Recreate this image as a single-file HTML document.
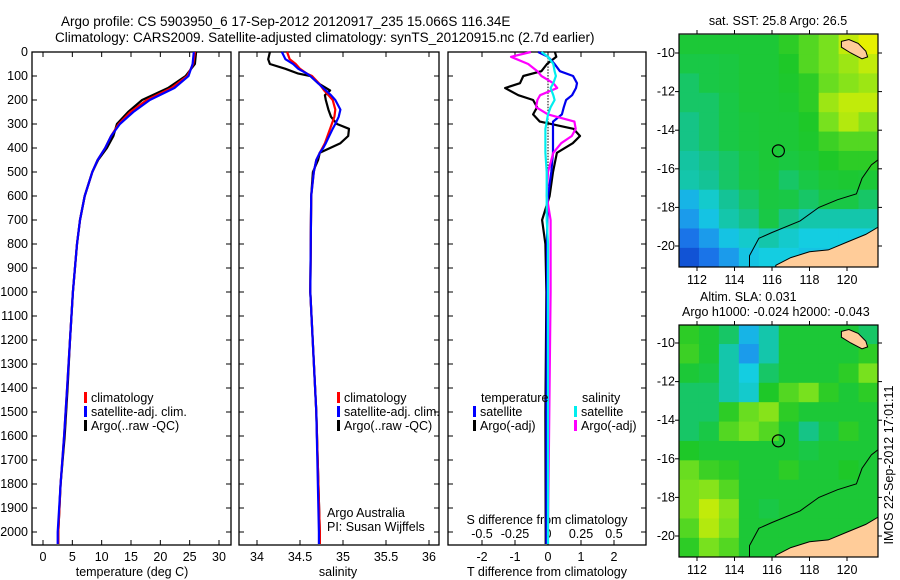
<!DOCTYPE html>
<html><head><meta charset="utf-8"><style>
body{margin:0;background:#fff}
svg{display:block;font-family:"Liberation Sans",sans-serif;font-size:12.5px}
</style></head><body>
<svg id="s" width="900" height="580" xmlns="http://www.w3.org/2000/svg">
<text x="61" y="26" font-size="13.5">Argo profile: CS 5903950_6 17-Sep-2012 20120917_235 15.066S 116.34E</text>
<text x="55" y="42" font-size="13.5">Climatology: CARS2009. Satellite-adjusted climatology: synTS_20120915.nc (2.7d earlier)</text>
<text x="778" y="25" text-anchor="middle">sat. SST: 25.8 Argo: 26.5</text>
<text x="700" y="301">Altim. SLA: 0.031</text>
<text x="682" y="316">Argo h1000: -0.024 h2000: -0.043</text>
<text transform="translate(893,465) rotate(-90)" text-anchor="middle">IMOS 22-Sep-2012 17:01:11</text>
<g id="g"></g>
</svg>
<script>
// ---------- data ----------
const depthTicks=[0,100,200,300,400,500,600,700,800,900,1000,1100,1200,1300,1400,1500,1600,1700,1800,1900,2000];
const tempTicks=[0,5,10,15,20,25,30];
const salTicks=[34,34.5,35,35.5,36];
const tdTicks=[-2,-1,0,1,2];
const sdTicks=[-0.5,-0.25,0,0.25,0.5];
const sdTickLabels=["-0.5","-0.25","0","0.25","0.5"];

const tDepth=[0,50,100,150,200,250,300,350,400,450,500,600,700,800,1000,1200,1400,1600,1800,2000,2050];
const tClim=[25.9,25.6,24.6,21.9,17.7,14.9,12.9,11.6,10.6,9.3,8.4,7.1,6.3,5.8,5.1,4.6,4.1,3.6,3.0,2.6,2.6];
const tSat=[25.7,25.5,24.8,22.4,18.2,15.4,13.1,11.6,10.6,9.3,8.4,7.1,6.3,5.8,5.1,4.6,4.1,3.6,3.0,2.5,2.5];
const tArgo=[26.1,25.9,24.3,21.3,16.9,14.5,12.6,12.0,10.9,9.4,8.4,7.1,6.3,5.8,5.1,4.6,4.2,3.7,3.0,2.6,2.6];

const sDepth=[0,30,50,70,90,100,130,160,180,200,240,270,300,320,350,380,400,420,450,500,600,1000,1500,2000,2050];
const sClim=[34.35,34.38,34.45,34.5,34.58,34.64,34.72,34.78,34.83,34.88,34.91,34.9,34.87,34.85,34.82,34.79,34.76,34.73,34.69,34.66,34.63,34.62,34.69,34.73,34.73];
const sSat=[34.29,34.33,34.42,34.48,34.58,34.62,34.71,34.8,34.86,34.91,34.97,34.95,34.91,34.88,34.84,34.8,34.77,34.73,34.69,34.66,34.63,34.62,34.69,34.72,34.72];
const sArgo=[34.15,34.13,34.15,34.33,34.48,34.62,34.71,34.85,34.79,34.8,34.83,34.86,34.93,35.07,35.06,34.97,34.85,34.73,34.71,34.65,34.63,34.62,34.69,34.73,34.73];

const dDepth=[0,20,50,80,100,130,150,180,200,230,260,290,320,350,380,420,500,600,700,800,1000,1500,2000,2050];
const tdSat=[-0.3,0.0,0.2,0.36,0.76,0.88,0.85,0.73,0.55,0.48,0.42,0.15,0.15,0.15,0.15,0.15,0.1,0.0,-0.02,-0.03,-0.03,-0.05,-0.05,-0.05];
const tdArgo=[0.21,0.25,-0.03,-0.2,-0.75,-0.85,-1.3,-0.9,-0.45,-0.33,-0.45,-0.25,0.77,0.97,0.75,0.27,0.15,0.05,-0.18,-0.08,-0.05,-0.08,-0.07,-0.07];
const sdSat=[-0.05,0.0,0.04,0.05,0.06,0.04,0.02,0.04,0.05,0.02,0.0,-0.01,-0.02,-0.02,-0.02,-0.02,-0.01,-0.01,-0.01,0.0,0.0,0.0,0.0,0.0];
const sdArgo=[-0.13,-0.28,-0.15,-0.08,-0.05,0.04,0.07,-0.06,-0.08,-0.09,0.0,0.2,0.21,0.18,0.1,0.04,0.0,-0.01,0.02,0.02,0.02,0.01,0.0,0.0];

const lonTicks=[112,114,116,118,120];
const latTicks=[-10,-12,-14,-16,-18,-20];
const sstGrid=[
[.55,.55,.55,.55,.55,.6,.65,.7,.8,.85],
[.52,.52,.53,.55,.55,.58,.65,.7,.75,.8],
[.5,.52,.53,.55,.55,.57,.6,.68,.72,.75],
[.5,.5,.52,.55,.55,.56,.6,.75,.8,.8],
[.48,.5,.52,.54,.55,.55,.58,.7,.78,.72],
[.48,.5,.52,.54,.55,.55,.57,.62,.65,.65],
[.46,.48,.5,.52,.55,.53,.55,.58,.6,.6],
[.45,.47,.5,.52,.54,.5,.52,.55,.56,.55],
[.35,.42,.47,.5,.53,.52,.5,.52,.52,.5],
[.3,.38,.45,.48,.52,.48,.45,.45,.45,.45],
[.22,.3,.38,.42,.45,.42,.4,.4,.4,.4],
[.15,.22,.3,.38,.4,.4,.38,.38,.38,.38]];
const slaGrid=[
[.6,.55,.5,.35,.45,.55,.55,.55,.55,.5],
[.62,.55,.45,.3,.45,.55,.55,.55,.55,.6],
[.55,.52,.45,.4,.5,.55,.55,.55,.6,.7],
[.5,.5,.45,.42,.58,.65,.7,.6,.55,.6],
[.5,.5,.6,.68,.72,.6,.55,.55,.55,.55],
[.5,.52,.65,.7,.65,.55,.48,.52,.6,.55],
[.58,.55,.55,.55,.55,.55,.52,.55,.55,.55],
[.68,.62,.6,.55,.55,.6,.55,.55,.58,.55],
[.7,.72,.65,.55,.55,.55,.55,.55,.55,.55],
[.7,.8,.72,.55,.52,.55,.55,.55,.55,.55],
[.65,.78,.7,.55,.55,.55,.55,.55,.55,.55],
[.6,.7,.65,.55,.55,.55,.55,.55,.55,.55]];
const landLon=[121.7,121.7,121,120,119,118,117,116.2,116.2];
const landLat=[-21.2,-19,-19.4,-19.8,-20.2,-20.3,-20.6,-21,-21.2];
const islandLon=[119.7,120.1,120.6,121,121.1,120.8,120.2,119.7];
const islandLat=[-9.4,-9.3,-9.5,-9.9,-10.2,-10.3,-10,-9.7];
const isoLon=[121.7,121.3,120.8,120.5,119.5,118.5,117.5,116,115.3,114.8,114.8];
const isoLat=[-15.5,-15.8,-16.5,-17.3,-17.6,-18,-18.7,-19.3,-19.6,-20.5,-21.1];
const argoLon=116.34, argoLat=-15.07;

// ---------- drawing ----------
const NS="http://www.w3.org/2000/svg", G=document.getElementById('g');
function mk(t,a,p){const e=document.createElementNS(NS,t);for(const k in a)e.setAttribute(k,a[k]);(p||G).appendChild(e);return e;}
const Y0=52,Y1=545,yD=d=>Y0+d*0.24;
function lin(v0,p0,v1,p1){return v=>p0+(v-v0)*(p1-p0)/(v1-v0);}

function frame(x0,x1,name){
  const r=mk('rect',{x:x0,y:Y0,width:x1-x0,height:Y1-Y0,fill:'none',stroke:'#000','stroke-width':1.3});
  
  
  depthTicks.forEach(d=>{mk('line',{x1:x0,x2:x0+5,y1:yD(d),y2:yD(d),stroke:'#000'});mk('line',{x1:x1,x2:x1-5,y1:yD(d),y2:yD(d),stroke:'#000'});});
}
function line(xs,ds,sx,color,name,w){
  const pts=xs.map((v,i)=>sx(v).toFixed(1)+','+yD(ds[i]).toFixed(1)).join(' ');
  const p=mk('polyline',{points:pts,fill:'none',stroke:color,'stroke-width':w||2.2,'stroke-linejoin':'round'});
  
  
}
function txt(x,y,s,anchor,name){const t=mk('text',{x:x,y:y,'text-anchor':anchor||'start'});t.textContent=s;
  
  return t;}
function xticks(vals,labels,sx,ty,x0){vals.forEach((v,i)=>{const x=sx(v);mk('line',{x1:x,x2:x,y1:Y1,y2:Y1-5,stroke:'#000'});mk('line',{x1:x,x2:x,y1:Y0,y2:Y0+5,stroke:'#000'});
  txt(x,ty,labels[i],'middle','x-tick-label');});}

depthTicks.forEach(d=>txt(28,yD(d)+4,String(d),'end','depth-tick-label'));

const sxT=lin(0,43,30,219);
frame(32,231,'temperature-panel');
xticks(tempTicks,tempTicks.map(String),sxT,561,32);
txt(132,576,'temperature (deg C)','middle','temperature-axis-title');
line(tArgo,tDepth,sxT,'#000','temp-argo-line');
line(tClim,tDepth,sxT,'#f00','temp-climatology-line');
line(tSat,tDepth,sxT,'#00f','temp-satellite-line');

const sxS=lin(34,257,36,429);
frame(239,439,'salinity-panel');
xticks(salTicks,salTicks.map(String),sxS,561,239);
txt(338,576,'salinity','middle','salinity-axis-title');
line(sArgo,sDepth,sxS,'#000','sal-argo-line');
line(sClim,sDepth,sxS,'#f00','sal-climatology-line');
line(sSat,sDepth,sxS,'#00f','sal-satellite-line');

function leg(x,y,c,s,name){mk('rect',{x:x,y:y-10,width:3,height:11,fill:c});txt(x+7,y,s,'start',name);}
[[84,'temp'],[337,'sal']].forEach(([x,n])=>{leg(x,402,'#f00','climatology',n+'-legend-climatology');leg(x,416,'#00f','satellite-adj. clim.',n+'-legend-satellite');leg(x,430,'#000','Argo(..raw -QC)',n+'-legend-argo');});
txt(327,517,'Argo Australia','start','argo-australia-label');
txt(327,531,'PI: Susan Wijffels','start','pi-label');

const sxTD=lin(0,548,2,614), sxSD=lin(0,548,0.5,614);
frame(448,646,'difference-panel');
tdTicks.forEach(v=>{const x=sxTD(v);mk('line',{x1:x,x2:x,y1:Y1,y2:Y1-5,stroke:'#000'});mk('line',{x1:x,x2:x,y1:Y0,y2:Y0+5,stroke:'#000'});txt(x,561,String(v),'middle','t-diff-tick-label');});
sdTicks.forEach((v,i)=>txt(sxSD(v),538,sdTickLabels[i],'middle','s-diff-tick-label'));
txt(547,524,'S difference from climatology','middle','s-diff-axis-title');
txt(547,576,'T difference from climatology','middle','t-diff-axis-title');
for(let d=0;d<600;d+=12)mk('rect',{x:547.5,y:yD(d),width:1,height:1.5,fill:'#000'});
line(tdArgo,dDepth,sxTD,'#000','tdiff-argo-line');
line(tdSat,dDepth,sxTD,'#0000ee','tdiff-satellite-line');
line(sdArgo,dDepth,sxSD,'#f0f','sdiff-argo-line');
line(sdSat,dDepth,sxSD,'#0ee','sdiff-satellite-line');
txt(481,402,'temperature','start','diff-legend-temperature');
txt(582,402,'salinity','start','diff-legend-salinity');
leg(473,416,'#00f','satellite','diff-legend-t-satellite');
leg(473,430,'#000','Argo(-adj)','diff-legend-t-argo');
leg(574,416,'#0ee','satellite','diff-legend-s-satellite');
leg(574,430,'#f0f','Argo(-adj)','diff-legend-s-argo');

const stops=[[0.1,[10,60,200]],[0.25,[30,130,240]],[0.4,[20,205,225]],[0.47,[20,195,150]],[0.52,[25,200,70]],[0.58,[30,200,40]],[0.7,[120,225,30]],[0.85,[230,240,0]]];
function cmap(v){if(v<=stops[0][0])return stops[0][1];for(let i=1;i<stops.length;i++){if(v<=stops[i][0]){const a=stops[i-1],b=stops[i],t=(v-a[0])/(b[0]-a[0]);return a[1].map((c,k)=>Math.round(c+(b[1][k]-c)*t));}}return stops[stops.length-1][1];}
function map(top,bottom,lat0,lat1,grid,name){
  const X0=679,X1=878,sx=lin(112,697,120,847),sy=lin(-10,top+ (lat0),-20,top+(lat1));
  const g=mk('g',{});
  
  
  const cp=mk('clipPath',{id:'c'+top},g);mk('rect',{x:X0,y:top,width:X1-X0,height:bottom-top},cp);
  const inner=mk('g',{'clip-path':'url(#c'+top+')'},g);
  const lonA=111.04,lonB=121.68,latA=-9.05,latB=-21.1;
  const nr=grid.length,nc=grid[0].length;
  grid.forEach((row,r)=>row.forEach((v,c)=>{
    const x=sx(lonA+(lonB-lonA)*c/nc),x2=sx(lonA+(lonB-lonA)*(c+1)/nc),y=sy(latA+(latB-latA)*r/nr),y2=sy(latA+(latB-latA)*(r+1)/nr);
    const cell=mk('rect',{x:x,y:y,width:x2-x+0.5,height:y2-y+0.5,fill:'rgb('+cmap(v).join(',')+')'},inner);
    
    
  }));
  const poly=(lo,la)=>lo.map((v,i)=>sx(v).toFixed(1)+','+sy(la[i]).toFixed(1)).join(' ');
  mk('polygon',{points:poly(landLon,landLat),fill:'#fc9','stroke':'#000','stroke-width':1},inner);
  mk('polygon',{points:poly(islandLon,islandLat),fill:'#fc9','stroke':'#000','stroke-width':1},inner);
  mk('polyline',{points:poly(isoLon,isoLat),fill:'none',stroke:'#000','stroke-width':1},inner);
  const c=mk('circle',{cx:sx(argoLon),cy:sy(argoLat),r:6,fill:'none',stroke:'#000','stroke-width':1.2},g);
  
  
  mk('rect',{x:X0,y:top,width:X1-X0,height:bottom-top,fill:'none',stroke:'#000','stroke-width':1.2},g);
  lonTicks.forEach(v=>{const x=sx(v);mk('line',{x1:x,x2:x,y1:top,y2:top-4,stroke:'#000'},g);mk('line',{x1:x,x2:x,y1:bottom,y2:bottom+4,stroke:'#000'},g);txt(x,bottom+17,String(v),'middle','lon-tick-label');});
  latTicks.forEach(v=>{const y=sy(v);mk('line',{x1:X0,x2:X0-4,y1:y,y2:y,stroke:'#000'},g);mk('line',{x1:X1,x2:X1+4,y1:y,y2:y,stroke:'#000'},g);txt(X0-4,y+4,String(v),'end','lat-tick-label');});
}
map(34,267,19,212,sstGrid,'sst-map');
map(325,557,18,211,slaGrid,'sla-map');
</script>
</body></html>
